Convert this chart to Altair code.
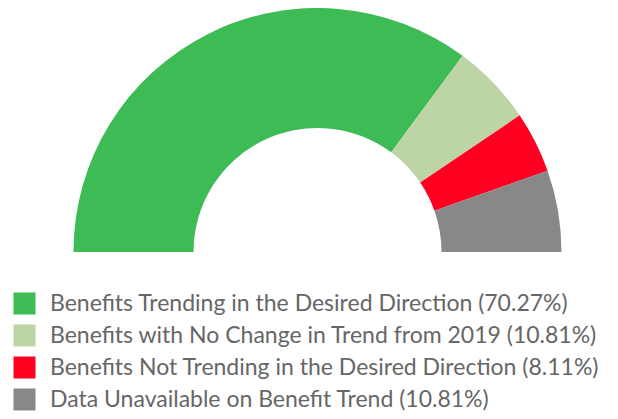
import math
import altair as alt
import pandas as pd

categories = [
    "Benefits Trending in the Desired Direction",
    "Benefits with No Change in Trend from 2019",
    "Benefits Not Trending in the Desired Direction",
    "Data Unavailable on Benefit Trend",
]
values = [70.27, 10.81, 8.11, 10.81]
colors = ["#3dbb54", "#bdd4a4", "#ff0022", "#888888"]

labels = [f"{c} ({v:.2f}%)" for c, v in zip(categories, values)]
df = pd.DataFrame({"label": labels, "value": values, "order": list(range(len(values)))})

chart = (
    alt.Chart(df)
    .mark_arc(outerRadius=244, innerRadius=124)
    .encode(
        theta=alt.Theta("value:Q", stack=True,
                        scale=alt.Scale(range=[-math.pi / 2, math.pi / 2])),
        order=alt.Order("order:Q"),
        color=alt.Color(
            "label:N",
            sort=labels,
            scale=alt.Scale(domain=labels, range=colors),
            legend=alt.Legend(
                title=None,
                orient="none",
                legendX=5,
                legendY=284,
                symbolType="square",
                symbolSize=484,
                symbolStrokeWidth=0,
                labelFont="Lato",
                labelFontSize=23,
                labelColor="#666666",
                labelOffset=14,
                rowPadding=8,
                labelLimit=700,
            ),
        ),
        x=alt.value(309.5),
        y=alt.value(244),
    )
    .properties(width=602, height=403, padding=0,
                autosize=alt.AutoSizeParams(type="none"))
    .configure_view(stroke=None)
)

chart.save("out.html", embed_options={"renderer": "svg", "actions": False})
